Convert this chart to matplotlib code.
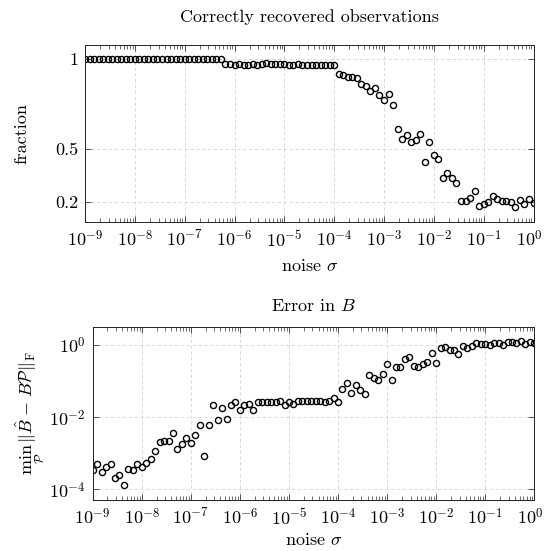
import numpy as np
import matplotlib
matplotlib.use("Agg")
import matplotlib.pyplot as plt
from matplotlib.ticker import LogLocator, FuncFormatter, NullLocator, FixedLocator
from matplotlib.transforms import ScaledTranslation

plt.rcParams['font.family'] = ['cmr10', 'DejaVu Serif']
plt.rcParams['mathtext.fontset'] = 'cm'
plt.rcParams['axes.formatter.use_mathtext'] = True
plt.rcParams['axes.unicode_minus'] = False

# noise levels: 100 log-spaced values from 1e-9 to 1e0
sigma = np.logspace(-9, 0, 100)

# fraction of correctly recovered observations
fraction = (
    [1.0] * 31
    + [0.975, 0.972, 0.970, 0.972, 0.970, 0.968, 0.972, 0.970, 0.975, 0.978,
       0.975, 0.972, 0.975, 0.973, 0.970, 0.968, 0.972, 0.970, 0.968, 0.970,
       0.968, 0.968, 0.968, 0.968, 0.968]
    + [0.920, 0.914, 0.900, 0.900, 0.894, 0.862, 0.850, 0.820, 0.840, 0.800,
       0.772, 0.806, 0.746, 0.612, 0.552, 0.578, 0.537, 0.548, 0.582, 0.427,
       0.536, 0.464, 0.443, 0.334, 0.365, 0.334, 0.305, 0.206, 0.209, 0.222,
       0.265, 0.180, 0.190, 0.202, 0.233, 0.217, 0.209, 0.209, 0.199, 0.176,
       0.214, 0.190, 0.218, 0.194]
)

# error in B
error_B = [
    3.47e-4, 4.90e-4, 3.09e-4, 4.17e-4, 4.90e-4, 2.00e-4, 2.51e-4, 1.29e-4, 3.63e-4, 3.47e-4,
    4.90e-4, 4.27e-4, 5.25e-4, 7.08e-4, 1.17e-3, 2.09e-3, 2.24e-3, 2.14e-3, 3.63e-3, 1.32e-3,
    1.78e-3, 2.63e-3, 1.91e-3, 3.16e-3, 5.89e-3, 8.32e-4, 6.17e-3, 2.14e-2, 8.13e-3, 1.78e-2,
    9.12e-3, 2.19e-2, 2.63e-2, 1.58e-2, 2.24e-2, 2.34e-2, 1.55e-2, 2.57e-2, 2.69e-2, 2.69e-2,
    2.69e-2, 2.69e-2, 2.82e-2, 2.19e-2, 2.69e-2, 2.29e-2, 2.75e-2, 2.75e-2, 2.82e-2, 2.82e-2,
    2.75e-2, 2.82e-2, 2.63e-2, 2.75e-2, 3.31e-2, 2.63e-2, 5.89e-2, 9.12e-2, 4.79e-2, 7.76e-2,
    5.50e-2, 4.47e-2, 0.148, 0.123, 0.107, 0.158, 0.295, 0.107, 0.251, 0.251,
    0.417, 0.457, 0.263, 0.240, 0.295, 0.347, 0.589, 0.309, 0.813, 0.891,
    0.724, 0.724, 0.550, 0.933, 0.813, 0.933, 1.12, 1.07, 1.05, 1.00,
    1.15, 1.15, 1.00, 1.20, 1.20, 1.15, 1.32, 1.07, 1.23, 1.17,
]

x_ticks = [1e-9, 1e-8, 1e-7, 1e-6, 1e-5, 1e-4, 1e-3, 1e-2, 1e-1, 1e0]
frac_ticks = [0.2, 0.5, 1.0]
frac_ticklabels = ["0.2", "0.5", "1"]
err_ticks = [1e-4, 1e-2, 1e0]

W, H = 545, 551
fig = plt.figure(figsize=(W / 100, H / 100), dpi=100)

def px_axes(left, top, right, bottom):
    return fig.add_axes([left / W, 1 - bottom / H, (right - left) / W, (bottom - top) / H])

T1 = (85, 45, 533.5, 221.7)
T2 = (92.7, 326.7, 534.3, 500)
ax1 = px_axes(*T1)
ax2 = px_axes(*T2)

pow_fmt = FuncFormatter(lambda v, pos: r"$10^{%d}$" % int(round(np.log10(v))))

FS = 13
for ax in (ax1, ax2):
    ax.set_xscale('log')
    ax.set_xlim(1e-9, 1e0)
    ax.xaxis.set_major_locator(FixedLocator(x_ticks))
    ax.xaxis.set_minor_locator(LogLocator(base=10, subs=np.arange(2, 10), numticks=100))
    ax.xaxis.set_major_formatter(pow_fmt)
    ax.tick_params(which='both', direction='in', top=True, right=True, labelsize=FS,
                   color='#333333')
    ax.tick_params(which='major', length=4, width=0.6, pad=5)
    ax.tick_params(which='minor', length=2.8, width=0.5)
    ax.grid(True, which='major', linestyle=(0, (4, 3)), color='#d4d4d4', linewidth=0.6)
    ax.set_axisbelow(True)
    for s in ax.spines.values():
        s.set_linewidth(0.7)
        s.set_color('#222222')
    ax.set_xlabel(r"noise $\sigma$", fontsize=FS)
    ax.xaxis.label.set_va('center')

def place(ax, box, label_x_px=None, xlabel_y_px=None, title_y_px=None, title=None):
    left, top, right, bottom = box
    w, h = right - left, bottom - top
    if label_x_px is not None:
        ax.yaxis.set_label_coords((label_x_px - left) / w, 0.5)
        ax.yaxis.label.set_va('center')
    ax.xaxis.set_label_coords(0.5, (bottom - xlabel_y_px) / h)
    ax.text(0.5, (bottom - title_y_px) / h, title, transform=ax.transAxes,
            ha='center', va='center', fontsize=FS)

ax1.plot(sigma, fraction, linestyle='none', marker='o', markersize=4.4,
         markerfacecolor='none', markeredgecolor='black', markeredgewidth=1.0)
ax1.set_ylim(0.091, 1.08)
ax1.set_yticks(frac_ticks)
ax1.set_yticklabels(frac_ticklabels)
ax1.set_ylabel("fraction", fontsize=FS)
place(ax1, T1, label_x_px=22, xlabel_y_px=266, title_y_px=17,
      title="Correctly recovered observations")

ax2.plot(sigma, error_B, linestyle='none', marker='o', markersize=4.4,
         markerfacecolor='none', markeredgecolor='black', markeredgewidth=1.0)
ax2.set_yscale('log')
ax2.set_ylim(10 ** -4.296, 10 ** 0.507)
ax2.yaxis.set_major_locator(FixedLocator(err_ticks))
ax2.yaxis.set_minor_locator(NullLocator())
ax2.yaxis.set_major_formatter(pow_fmt)
ax2.set_ylabel(r"$\min_{\mathcal{P}}\,\|\hat{B}\;-\;B\mathcal{P}\|_{\mathrm{F}}$", fontsize=FS)
place(ax2, T2, label_x_px=30, xlabel_y_px=540, title_y_px=306, title=r"Error in $B$")

# keep the last tick label (10^0) inside the figure edge
fig.canvas.draw()
for ax in (ax1, ax2):
    lab = ax.xaxis.get_major_ticks()[-1].label1
    lab.set_transform(lab.get_transform() + ScaledTranslation(-4 / 100, 0, fig.dpi_scale_trans))

fig.savefig("out.png", dpi=100)
